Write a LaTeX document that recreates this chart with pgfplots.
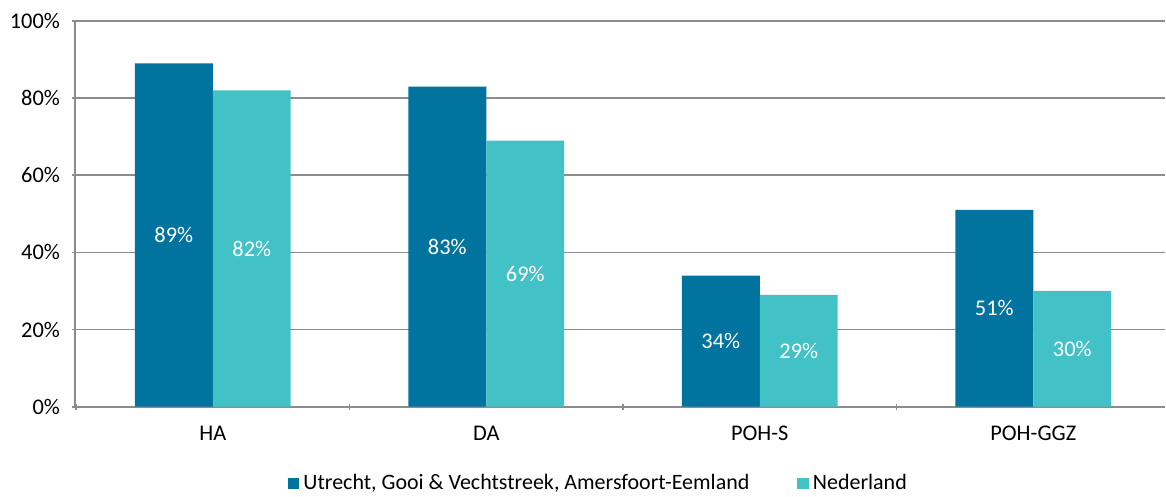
\documentclass[border=0pt]{standalone}
\usepackage{fontspec}
\setmainfont{Carlito}
\usepackage{pgfplots}
\pgfplotsset{compat=1.18}
\definecolor{regio}{RGB}{0,115,158}
\definecolor{nl}{RGB}{66,193,199}
\definecolor{gridgray}{RGB}{140,140,140}
\begin{document}
\begin{tikzpicture}
\begin{axis}[
  scale only axis, width=545.5pt, height=193pt,
  at={(0,0)}, anchor=south west,
  ybar=0pt, bar width=0.285,
  xmin=-0.504, xmax=3.482,
  ymin=0, ymax=100,
  xtick={0,1,2,3}, xticklabels={HA,DA,POH-S,POH-GGZ},
  major x tick style={draw=none},
  minor xtick={-0.5,0.5,1.5,2.5,3.5},
  minor x tick style={gridgray, line width=0.9pt},
  ytick={0,20,40,60,80,100},
  yticklabels={0\%,20\%,40\%,60\%,80\%,100\%},
  major y tick style={gridgray, line width=0.9pt},
  tick align=outside, major tick length=3pt, minor tick length=3pt,
  axis x line=bottom, axis y line=left,
  axis line style={-, gridgray, line width=0.9pt},
  ymajorgrids, grid style={gridgray, line width=0.9pt},
  tick label style={font=\fontsize{11.2}{13}\selectfont, black},
  xticklabel style={yshift=-4.5pt},
  yticklabel style={xshift=-2.5pt},
  /pgf/number format/assume math mode=true,
  visualization depends on=rawy\as\rawy,
  nodes near coords={\pgfmathprintnumber{\rawy}\%},
  nodes near coords style={font=\fontsize{11.2}{13}\selectfont, white, anchor=center,
    shift={(axis direction cs:0,-0.5*\rawy)}},
  legend style={draw=none, fill=none, at={(0.481,-0.1995)}, anchor=center,
    legend columns=-1, font=\fontsize{11}{13}\selectfont,
    /tikz/every even column/.append style={column sep=22pt},
    inner sep=0pt, cells={anchor=west}},
  legend image code/.code={\fill[#1, draw=none] (0pt,-2.9pt) rectangle (5.8pt,2.9pt);},
]
\addplot[fill=regio, draw=none] coordinates {(0,89) (1,83) (2,34) (3,51)};
\addplot[fill=nl, draw=none] coordinates {(0,82) (1,69) (2,29) (3,30)};
\legend{{Utrecht, Gooi \& Vechtstreek, Amersfoort-Eemland}, Nederland}
\end{axis}
\path[use as bounding box] (-37.5pt,-43pt) rectangle (545.5pt,203.5pt);
\end{tikzpicture}
\end{document}
